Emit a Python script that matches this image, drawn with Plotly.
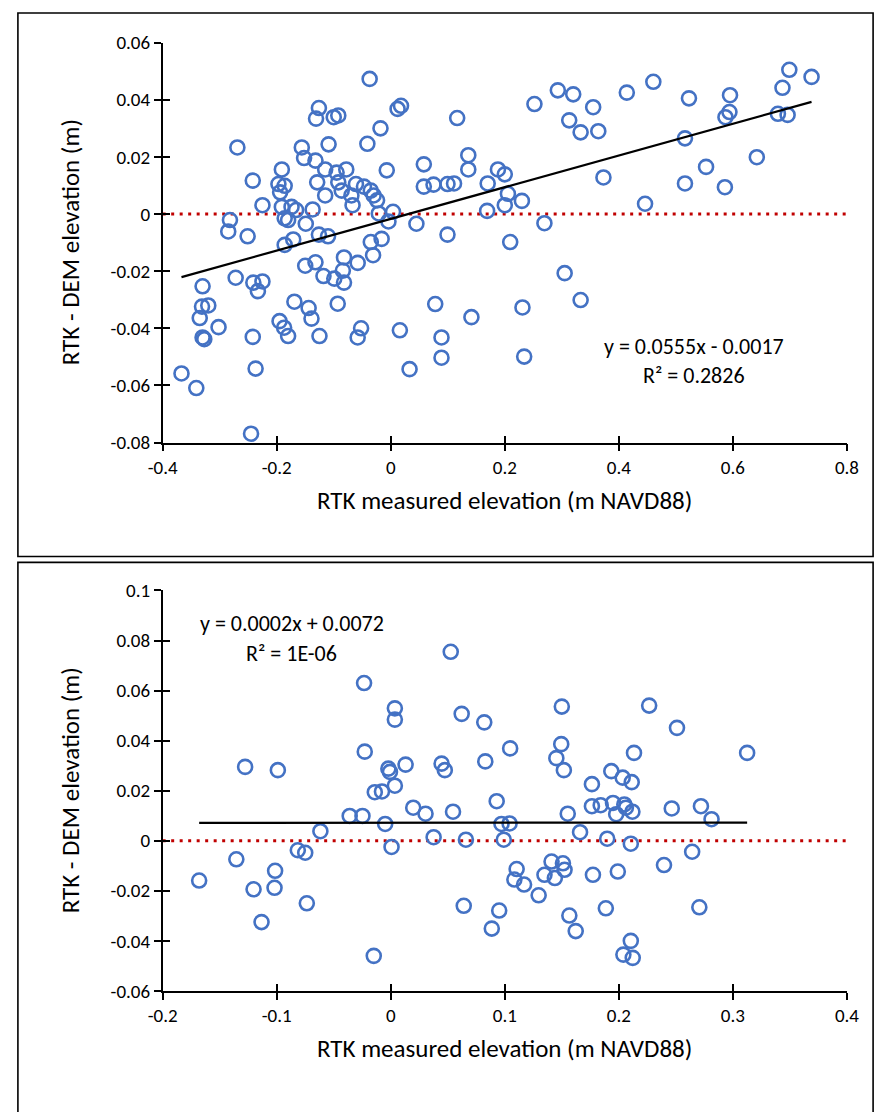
import plotly.graph_objects as go

# ---------------- data ----------------
top_x = [-0.037, -0.269, -0.126, -0.131, -0.100, -0.092, 0.012, 0.018, -0.018, -0.109,
         -0.041, -0.156, -0.152, -0.132, -0.191, -0.115, -0.095, -0.078, -0.007, -0.242,
         -0.197, -0.186, -0.194, -0.129, -0.092, -0.086, -0.115, -0.061, -0.047, -0.035,
         -0.030, -0.024, -0.069, -0.067, -0.225, -0.191, -0.174, -0.166, -0.137, -0.021,
         0.004, -0.282, -0.285, -0.251, -0.186, -0.180, -0.149, -0.126, -0.110, -0.004,
         -0.186, -0.171, -0.035, -0.016,
         -0.150, -0.132, -0.082, -0.058, -0.031, -0.084, -0.118, -0.099, -0.082, -0.330,
         -0.272, -0.241, -0.225, -0.233, -0.331, -0.320, -0.335, -0.302, -0.330, -0.327,
         -0.367, -0.341, -0.242, -0.237, -0.245, -0.169, -0.144, -0.139, -0.195, -0.187,
         -0.180, -0.125, -0.093, -0.052, -0.058, 0.016,
         0.1165, 0.252, 0.293, 0.320, 0.355, 0.313, 0.333, 0.364, 0.414, 0.058,
         0.136, 0.136, 0.058, 0.075, 0.0995, 0.111, 0.170, 0.188, 0.200, 0.2055,
         0.200, 0.230, 0.169, 0.373, 0.045, 0.2695, 0.0995, 0.2095, 0.446,
         0.305, 0.333, 0.078, 0.1415, 0.231, 0.089, 0.089, 0.033, 0.234,
         0.4605, 0.523, 0.595, 0.594, 0.587, 0.699, 0.738, 0.687, 0.679, 0.696,
         0.516, 0.642, 0.553, 0.516, 0.586]
top_y = [0.0473, 0.0233, 0.0371, 0.0334, 0.0339, 0.0345, 0.0368, 0.0379, 0.0300, 0.0244,
         0.0246, 0.0233, 0.0196, 0.0187, 0.0156, 0.0156, 0.0145, 0.0156, 0.0153, 0.0117,
         0.0105, 0.0099, 0.0076, 0.0111, 0.0111, 0.0082, 0.0065, 0.0105, 0.0096, 0.0082,
         0.0065, 0.0048, 0.0065, 0.0031, 0.0031, 0.0025, 0.0025, 0.0014, 0.0016, 0.0002,
         0.0008, -0.0021, -0.0061, -0.0078, -0.0015, -0.0021, -0.0034, -0.0072, -0.0078, -0.0026,
         -0.0108, -0.0089, -0.0098, -0.0087,
         -0.0181, -0.0169, -0.0152, -0.0171, -0.0144, -0.0198, -0.0217, -0.0226, -0.0240, -0.0253,
         -0.0223, -0.0240, -0.0236, -0.0270, -0.0324, -0.0320, -0.0364, -0.0396, -0.0432, -0.0438,
         -0.0558, -0.0609, -0.0430, -0.0541, -0.0769, -0.0307, -0.0329, -0.0366, -0.0375, -0.0398,
         -0.0427, -0.0427, -0.0314, -0.0400, -0.0432, -0.0407,
         0.0336, 0.0385, 0.0433, 0.0419, 0.0374, 0.0328, 0.0286, 0.0290, 0.0425, 0.0174,
         0.0206, 0.0156, 0.0096, 0.0103, 0.0105, 0.0107, 0.0107, 0.0156, 0.0139, 0.0071,
         0.0031, 0.0046, 0.0011, 0.0128, -0.0034, -0.0032, -0.0072, -0.0098, 0.0036,
         -0.0207, -0.0301, -0.0315, -0.0361, -0.0327, -0.0432, -0.0503, -0.0543, -0.0499,
         0.0463, 0.0405, 0.0416, 0.0357, 0.0339, 0.0505, 0.0480, 0.0442, 0.0351, 0.0347,
         0.0265, 0.0199, 0.0165, 0.0107, 0.0094]

bot_x = [-0.1680, -0.1354, -0.1277, -0.1203, -0.1133, -0.1014, -0.1019, -0.0990, -0.0815, -0.0750,
         -0.0736, -0.0617, -0.0360, -0.0248, -0.0234, -0.0228, -0.0149, -0.0140, -0.0077, -0.0049,
         -0.0021, -0.0007, 0.0007, 0.0036, 0.0036, 0.0036, 0.0130, 0.0197, 0.0305, 0.0376,
         0.0446, 0.0474, 0.0526, 0.0546, 0.0622, 0.0640, 0.0659, 0.0820, 0.0829, 0.0886,
         0.0929, 0.0951, 0.0971, 0.0991, 0.1042, 0.1047, 0.1084, 0.1104, 0.1169, 0.1297,
         0.1348, 0.1410, 0.1439, 0.1452, 0.1495, 0.1500, 0.1510, 0.1518, 0.1524, 0.1552,
         0.1566, 0.1622, 0.1660, 0.1764, 0.1764, 0.1773, 0.1841, 0.1886, 0.1898, 0.1934,
         0.1949, 0.1977, 0.1991, 0.2034, 0.2040, 0.2048, 0.2062, 0.2105, 0.2105, 0.2113,
         0.2119, 0.2122, 0.2133, 0.2266, 0.2396, 0.2464, 0.2510, 0.2643, 0.2706, 0.2720,
         0.2813, 0.3125]
bot_y = [-0.0159, -0.0074, 0.0295, -0.0194, -0.0325, -0.0120, -0.0188, 0.0282, -0.0038, -0.0048,
         -0.0250, 0.0038, 0.0099, 0.0099, 0.0630, 0.0356, -0.0460, 0.0194, 0.0197, 0.0067,
         0.0288, 0.0275, -0.0025, 0.0529, 0.0484, 0.0220, 0.0304, 0.0132, 0.0108, 0.0014,
         0.0308, 0.0282, 0.0755, 0.0116, 0.0507, -0.0260, 0.0004, 0.0473, 0.0317, -0.0351,
         0.0158, -0.0279, 0.0067, 0.0004, 0.0069, 0.0369, -0.0155, -0.0113, -0.0175, -0.0218,
         -0.0136, -0.0083, -0.0149, 0.0330, 0.0386, 0.0536, -0.0090, 0.0282, -0.0116, 0.0108,
         -0.0299, -0.0361, 0.0034, 0.0226, 0.0138, -0.0136, 0.0142, -0.0270, 0.0008, 0.0278,
         0.0151, 0.0106, -0.0123, 0.0252, -0.0455, 0.0145, 0.0132, -0.0012, -0.0400, 0.0234,
         0.0116, -0.0468, 0.0351, 0.0540, -0.0097, 0.0129, 0.0451, -0.0044, -0.0266, 0.0138,
         0.0086, 0.0351]

top_slope, top_intercept = 0.0555, -0.0017
bot_slope, bot_intercept = 0.0002, 0.0072
top_eq = ["y = 0.0555x - 0.0017", "R² = 0.2826"]
bot_eq = ["y = 0.0002x + 0.0072", "R² = 1E-06"]

top_xrange = [-0.4, 0.8]
top_yrange = [-0.08, 0.06]
bot_xrange = [-0.2, 0.4]
bot_yrange = [-0.06, 0.1]
top_xticks = [-0.4, -0.2, 0, 0.2, 0.4, 0.6, 0.8]
top_xlabels = ["-0.4", "-0.2", "0", "0.2", "0.4", "0.6", "0.8"]
top_yticks = [-0.08, -0.06, -0.04, -0.02, 0, 0.02, 0.04, 0.06]
top_ylabels = ["-0.08", "-0.06", "-0.04", "-0.02", "0", "0.02", "0.04", "0.06"]
bot_xticks = [-0.2, -0.1, 0, 0.1, 0.2, 0.3, 0.4]
bot_xlabels = ["-0.2", "-0.1", "0", "0.1", "0.2", "0.3", "0.4"]
bot_yticks = [-0.06, -0.04, -0.02, 0, 0.02, 0.04, 0.06, 0.08, 0.1]
bot_ylabels = ["-0.06", "-0.04", "-0.02", "0", "0.02", "0.04", "0.06", "0.08", "0.1"]

x_title = "RTK measured elevation (m NAVD88)"
y_title = "RTK - DEM elevation (m)"

# ---------------- style ----------------
W, H = 888, 1112
FONT = "Carlito, Lato, sans-serif"
BLUE = "#4472C4"
RED = "#C00000"
XDOM = [152.3 / W, 858.0 / W]
TOP_DOM = [1 - 440.7 / H, 1 - 32.3 / H]
BOT_DOM = [1 - 1000.6 / H, 1 - 591.7 / H]

fig = go.Figure()

def add_panel(xs, ys, slope, icpt, xr, xa, ya):
    fig.add_trace(go.Scatter(x=xr, y=[0, 0], mode="lines", xaxis=xa, yaxis=ya,
                             line=dict(color=RED, width=3, dash="3px,5.5px"),
                             showlegend=False, hoverinfo="skip"))
    fig.add_trace(go.Scatter(x=xs, y=ys, mode="markers", xaxis=xa, yaxis=ya,
                             marker=dict(symbol="circle-open", size=14, color=BLUE,
                                         line=dict(width=2.6, color=BLUE)),
                             showlegend=False))
    x0, x1 = min(xs), max(xs)
    fig.add_trace(go.Scatter(x=[x0, x1], y=[slope * x0 + icpt, slope * x1 + icpt],
                             mode="lines", xaxis=xa, yaxis=ya,
                             line=dict(color="black", width=2.2),
                             showlegend=False, hoverinfo="skip"))

add_panel(top_x, top_y, top_slope, top_intercept, top_xrange, "x", "y")
add_panel(bot_x, bot_y, bot_slope, bot_intercept, bot_xrange, "x2", "y2")
fig.add_trace(go.Scatter(x=[], y=[], xaxis="x3", yaxis="y3", showlegend=False))
fig.add_trace(go.Scatter(x=[], y=[], xaxis="x4", yaxis="y4", showlegend=False))

tickfont = dict(family=FONT, size=19, color="black")

def axis(rng, tv, tt, dom, anchor, **kw):
    d = dict(range=rng, domain=dom, anchor=anchor, tickmode="array", tickvals=tv,
             ticktext=tt, ticks="outside", ticklen=7, tickwidth=1.5, tickcolor="black",
             showline=True, linecolor="black", linewidth=1.5, showgrid=False,
             zeroline=False, tickfont=tickfont, fixedrange=True)
    d.update(kw)
    return d

def overlay(rng, tv, dom, anchor, over):
    return dict(range=rng, domain=dom, anchor=anchor, overlaying=over, tickmode="array",
                tickvals=tv, ticks="inside", ticklen=7, tickwidth=1.5, tickcolor="black",
                showline=False, showgrid=False, zeroline=False, showticklabels=False,
                fixedrange=True)

fig.update_layout(
    width=W, height=H, margin=dict(l=0, r=0, t=0, b=0),
    paper_bgcolor="white", plot_bgcolor="rgba(0,0,0,0)",
    font=dict(family=FONT, color="black"),
    xaxis=axis(top_xrange, top_xticks, top_xlabels, XDOM, "y"),
    yaxis=axis(top_yrange, top_yticks, top_ylabels, TOP_DOM, "x"),
    xaxis2=axis(bot_xrange, bot_xticks, bot_xlabels, XDOM, "y2"),
    yaxis2=axis(bot_yrange, bot_yticks, bot_ylabels, BOT_DOM, "x2"),
    xaxis3=overlay(top_xrange, top_xticks, XDOM, "y3", "x"),
    yaxis3=overlay(top_yrange, top_yticks, TOP_DOM, "x3", "y"),
    xaxis4=overlay(bot_xrange, bot_xticks, XDOM, "y4", "x2"),
    yaxis4=overlay(bot_yrange, bot_yticks, BOT_DOM, "x4", "y2"),
)

TITLE_SIZE = 25
annots = []
for xa, ya in (("x", "y"), ("x2", "y2")):
    annots.append(dict(text=x_title, xref=f"{xa} domain", yref=f"{ya} domain",
                       x=0.5, y=0, yshift=-58, showarrow=False, xanchor="center",
                       yanchor="middle", font=dict(family=FONT, size=TITLE_SIZE, color="black")))
    annots.append(dict(text=y_title, xref=f"{xa} domain", yref=f"{ya} domain",
                       x=0, y=0.5, xshift=-92, textangle=-90, showarrow=False,
                       xanchor="center", yanchor="middle",
                       font=dict(family=FONT, size=TITLE_SIZE, color="black")))

eqfont = dict(family=FONT, size=22, color="black")
annots += [
    dict(text=top_eq[0], xref="x", yref="y", x=0.531, y=-0.0465, showarrow=False,
         xanchor="center", yanchor="middle", font=eqfont),
    dict(text=top_eq[1], xref="x", yref="y", x=0.531, y=-0.0465, yshift=-29, showarrow=False,
         xanchor="center", yanchor="middle", font=eqfont),
    dict(text=bot_eq[0], xref="x2", yref="y2", x=-0.087, y=0.0869, showarrow=False,
         xanchor="center", yanchor="middle", font=eqfont),
    dict(text=bot_eq[1], xref="x2", yref="y2", x=-0.087, y=0.0869, yshift=-30, showarrow=False,
         xanchor="center", yanchor="middle", font=eqfont),
]
fig.update_layout(annotations=annots)

fig.update_layout(shapes=[
    dict(type="rect", xref="paper", yref="paper", x0=3 / W, x1=885 / W,
         y0=1 - 557 / H, y1=1 - 2 / H, line=dict(color="black", width=1.6)),
    dict(type="rect", xref="paper", yref="paper", x0=3 / W, x1=885 / W,
         y0=-0.02, y1=1 - 563 / H, line=dict(color="black", width=1.6)),
])

fig.write_html("out.html", config={"displayModeBar": False},
               post_script="document.body.style.margin='0';document.body.style.overflow='hidden';")
